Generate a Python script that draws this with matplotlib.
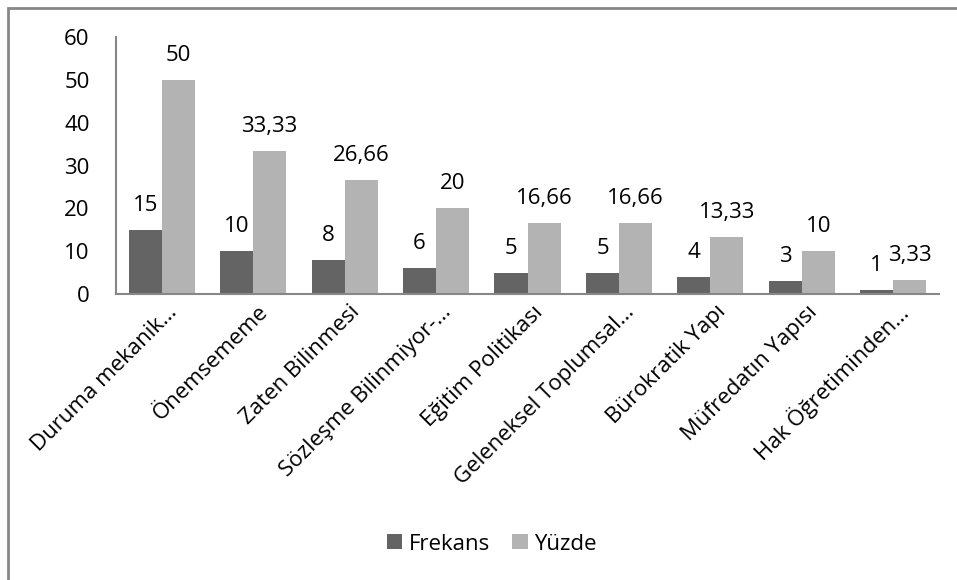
import numpy as np
import matplotlib
matplotlib.use("Agg")
import matplotlib.pyplot as plt
from matplotlib.patches import Rectangle
from matplotlib.transforms import ScaledTranslation

plt.rcParams['font.family'] = ['Open Sans', 'DejaVu Sans']
plt.rcParams['font.size'] = 16

categories = ["Duruma mekanik…", "Önemsememe", "Zaten Bilinmesi",
              "Sözleşme Bilinmiyor-…", "Eğitim Politikası",
              "Geleneksel Toplumsal…", "Bürokratik Yapı",
              "Müfredatın Yapısı", "Hak Öğretiminden…"]
frekans = [15, 10, 8, 6, 5, 5, 4, 3, 1]
yuzde = [50, 33.33, 26.66, 20, 16.66, 16.66, 13.33, 10, 3.33]
yticks = [0, 10, 20, 30, 40, 50, 60]

dark = '#646464'
light = '#b3b3b3'
axcol = '#878787'


def fmt(v):
    if float(v).is_integer():
        return str(int(v))
    return ('%.2f' % v).replace('.', ',')


fig = plt.figure(figsize=(9.57, 5.8), dpi=100)
ax = fig.add_axes([116/957, 1-294/580, (939-116)/957, (294-37)/580])

# outer chart frame (runs off the right/bottom edge)
fig.patches.append(Rectangle((8/957, -0.05), 1.2, 1 - 8/580 + 0.05,
                             transform=fig.transFigure, fill=False,
                             edgecolor=axcol, linewidth=2))

x = np.arange(len(categories))
w = 0.361
b1 = ax.bar(x - w/2, frekans, w, color=dark, label='Frekans')
b2 = ax.bar(x + w/2, yuzde, w, color=light, label='Yüzde')

for bars, vals in ((b1, frekans), (b2, yuzde)):
    for r, v in zip(bars, vals):
        ax.annotate(fmt(v), (r.get_x() + r.get_width()/2, v),
                    xytext=(0, 10), textcoords='offset points',
                    ha='center', va='bottom', fontsize=16)

ax.set_xlim(-0.5, len(categories) - 0.5)
ax.set_ylim(0, 60)
ax.set_yticks(yticks)
ax.set_yticklabels([str(t) for t in yticks], fontsize=16)
ax.tick_params(axis='y', length=0, pad=19)
ax.tick_params(axis='x', length=0)
ax.set_xticks(x)
ax.set_xticklabels(categories, rotation=45, ha='right', va='center',
                   rotation_mode='anchor', fontsize=16)
off = ScaledTranslation(12/100, -10/100, fig.dpi_scale_trans)
for lab in ax.get_xticklabels():
    lab.set_transform(lab.get_transform() + off)

for s in ('top', 'right'):
    ax.spines[s].set_visible(False)
for s in ('left', 'bottom'):
    ax.spines[s].set_color(axcol)
    ax.spines[s].set_linewidth(1.5)

fig.legend(handles=[b1, b2], loc='center', ncol=2, frameon=False,
           bbox_to_anchor=(492/957, 1 - 544/580), fontsize=16,
           handlelength=0.68, handleheight=0.68, handletextpad=0.3,
           columnspacing=1.0)

fig.savefig('out.png', dpi=100)
